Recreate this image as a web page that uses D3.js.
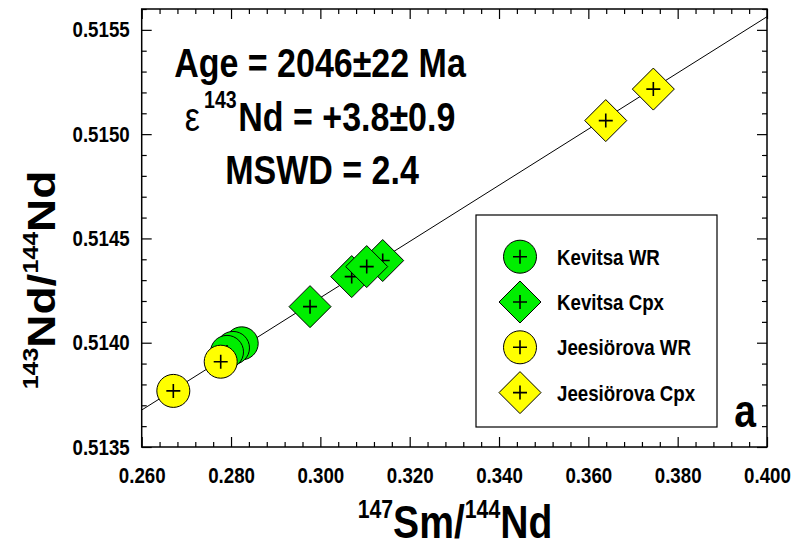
<!DOCTYPE html>
<html>
<head>
<meta charset="utf-8">
<script src="https://cdn.jsdelivr.net/npm/d3@7"></script>
<style>
  html, body { margin: 0; padding: 0; background: #fff; }
  svg { display: block; }
  text { font-family: 'Liberation Sans', Arial, sans-serif; font-weight: bold; fill: #000; }
</style>
</head>
<body>
<svg id="chart" width="793" height="549"></svg>
<script>
// 147Sm/144Nd (x) and 143Nd/144Nd (y) for each sample group
const kevitsaWR_x = [0.28239, 0.28044, 0.27910];
const kevitsaWR_y = [0.513997, 0.513975, 0.513956];
const kevitsaCpx_x = [0.29769, 0.30702, 0.31396, 0.31038];
const kevitsaCpx_y = [0.514173, 0.514317, 0.514394, 0.514365];
const jeesiorovaWR_x = [0.26708, 0.27769];
const jeesiorovaWR_y = [0.513769, 0.513909];
const jeesiorovaCpx_x = [0.36390, 0.37455];
const jeesiorovaCpx_y = [0.515065, 0.515216];

// Isochron regression line
const isochronSlope = 0.01347;
const isochronIntercept = 0.510175;

// Axis ranges and tick labels
const xDomain = [0.26, 0.40];
const yDomain = [0.5135, 0.5156];
const xTicks = [0.26, 0.28, 0.30, 0.32, 0.34, 0.36, 0.38, 0.40];
const yTicks = [0.5135, 0.5140, 0.5145, 0.5150, 0.5155];
const xMinorStep = 0.004;
const yMinorStep = 0.0001;

const legendLabels = ["Kevitsa WR", "Kevitsa Cpx", "Jeesiörova WR", "Jeesiörova Cpx"];
const legendShapes = ["circle", "diamond", "circle", "diamond"];
const legendFills = ["#00ee00", "#00ee00", "#ffff00", "#ffff00"];

const GREEN = "#00ee00", YELLOW = "#ffff00";
const SX = 0.85;            // horizontal squeeze applied to all lettering
const R = 16.5;             // circle marker radius
const D = 21;               // diamond half-diagonal

const svg = d3.select("#chart");
const plotL = 141.7, plotR = 767, plotT = 9, plotB = 447;

const x = d3.scaleLinear().domain(xDomain).range([plotL, plotR]);
const y = d3.scaleLinear().domain(yDomain).range([plotB, plotT]);

// helper: squeezed text at a position
function label(g, px, py, str, size, anchor) {
  return g.append("text")
    .attr("transform", `translate(${px},${py}) scale(${SX},1)`)
    .attr("text-anchor", anchor || "start")
    .style("font-size", size + "px")
    .text(str);
}

// minor tick positions
const xMinor = d3.range(Math.round((xDomain[1] - xDomain[0]) / xMinorStep) + 1)
  .map(i => +(xDomain[0] + i * xMinorStep).toFixed(4))
  .filter(v => !xTicks.some(t => Math.abs(t - v) < 1e-6));
const yMinor = d3.range(Math.round((yDomain[1] - yDomain[0]) / yMinorStep) + 1)
  .map(i => +(yDomain[0] + i * yMinorStep).toFixed(5))
  .filter(v => !yTicks.some(t => Math.abs(t - v) < 1e-7));

function styleAxis(g) {
  g.select(".domain").remove();
  g.selectAll(".tick line").attr("stroke", "#000").attr("stroke-width", 1.2);
}

// bottom axis with labels
const gx = svg.append("g").attr("transform", `translate(0,${plotB})`)
  .call(d3.axisBottom(x).tickValues(xTicks).tickFormat(d3.format(".3f"))
    .tickSizeInner(-10).tickSizeOuter(0).tickPadding(20));
gx.call(styleAxis);
gx.selectAll(".tick text").attr("transform", `scale(${SX},1)`)
  .style("font-size", "22px").attr("font-family", null).attr("fill", "#000");
svg.append("g").attr("transform", `translate(0,${plotB})`)
  .call(d3.axisBottom(x).tickValues(xMinor).tickFormat("").tickSizeInner(-5).tickSizeOuter(0))
  .call(styleAxis);

// top axis (ticks only)
svg.append("g").attr("transform", `translate(0,${plotT})`)
  .call(d3.axisTop(x).tickValues(xTicks).tickFormat("").tickSizeInner(-10).tickSizeOuter(0))
  .call(styleAxis);
svg.append("g").attr("transform", `translate(0,${plotT})`)
  .call(d3.axisTop(x).tickValues(xMinor).tickFormat("").tickSizeInner(-5).tickSizeOuter(0))
  .call(styleAxis);

// left axis with labels
const gy = svg.append("g").attr("transform", `translate(${plotL},0)`)
  .call(d3.axisLeft(y).tickValues(yTicks).tickFormat(d3.format(".4f"))
    .tickSizeInner(-10).tickSizeOuter(0).tickPadding(12));
gy.call(styleAxis);
gy.selectAll(".tick text")
  .attr("x", function () { return (+this.getAttribute("x")) / SX; })
  .attr("transform", `scale(${SX},1)`)
  .style("font-size", "22px").attr("font-family", null).attr("fill", "#000");
svg.append("g").attr("transform", `translate(${plotL},0)`)
  .call(d3.axisLeft(y).tickValues(yMinor).tickFormat("").tickSizeInner(-5).tickSizeOuter(0))
  .call(styleAxis);

// right axis (ticks only)
svg.append("g").attr("transform", `translate(${plotR},0)`)
  .call(d3.axisRight(y).tickValues(yTicks).tickFormat("").tickSizeInner(-10).tickSizeOuter(0))
  .call(styleAxis);
svg.append("g").attr("transform", `translate(${plotR},0)`)
  .call(d3.axisRight(y).tickValues(yMinor).tickFormat("").tickSizeInner(-5).tickSizeOuter(0))
  .call(styleAxis);

// plot frame
svg.append("rect")
  .attr("x", plotL).attr("y", plotT).attr("width", plotR - plotL).attr("height", plotB - plotT)
  .attr("fill", "none").attr("stroke", "#000").attr("stroke-width", 1.5);

// isochron
svg.append("line")
  .attr("x1", x(xDomain[0])).attr("y1", y(isochronIntercept + isochronSlope * xDomain[0]))
  .attr("x2", x(xDomain[1])).attr("y2", y(isochronIntercept + isochronSlope * xDomain[1]))
  .attr("stroke", "#000").attr("stroke-width", 1);

// markers
const plus = "M-7,0H7M0,-7V7";
function marker(g, shape, fill) {
  if (shape === "circle") {
    g.append("circle").attr("r", R).attr("fill", fill).attr("stroke", "#000").attr("stroke-width", 1);
  } else {
    g.append("path").attr("d", `M0,${-D}L${D},0L0,${D}L${-D},0Z`)
      .attr("fill", fill).attr("stroke", "#000").attr("stroke-width", 1);
  }
  g.append("path").attr("d", plus).attr("stroke", "#000").attr("stroke-width", 1.6);
}
function drawSeries(xs, ys, shape, fill) {
  xs.forEach((v, i) => {
    const g = svg.append("g").attr("transform", `translate(${x(v)},${y(ys[i])})`);
    marker(g, shape, fill);
  });
}
drawSeries(kevitsaCpx_x, kevitsaCpx_y, "diamond", GREEN);
drawSeries(kevitsaWR_x, kevitsaWR_y, "circle", GREEN);
drawSeries(jeesiorovaWR_x, jeesiorovaWR_y, "circle", YELLOW);
drawSeries(jeesiorovaCpx_x, jeesiorovaCpx_y, "diamond", YELLOW);

// annotation block
const ann = svg.append("g");
label(ann, 320, 77, "Age = 2046±22 Ma", 40, "middle");
const eps = ann.append("text")
  .attr("transform", `translate(320,131) scale(${SX},1)`)
  .attr("text-anchor", "middle")
  .style("font-size", "40px");
eps.append("tspan").style("font-weight", "normal").text("ε");
eps.append("tspan").attr("dx", 5).attr("dy", -23).style("font-size", "23px").text("143");
eps.append("tspan").attr("dx", 2).attr("dy", 23).text("Nd = +3.8±0.9");
label(ann, 322, 184, "MSWD = 2.4", 40, "middle");

// axis titles
const xt = svg.append("text")
  .attr("transform", `translate(455,538) scale(${SX},1)`)
  .attr("text-anchor", "middle").style("font-size", "46px");
xt.append("tspan").attr("dy", -20).style("font-size", "25px").text("147");
xt.append("tspan").attr("dy", 20).text("Sm/");
xt.append("tspan").attr("dy", -20).style("font-size", "25px").text("144");
xt.append("tspan").attr("dy", 20).text("Nd");

const yt = svg.append("text")
  .attr("transform", `translate(55,280) scale(${SX},1) rotate(-90)`)
  .attr("text-anchor", "middle").style("font-size", "46px");
yt.append("tspan").attr("dy", -20).style("font-size", "25px").text("143");
yt.append("tspan").attr("dy", 20).text("Nd/");
yt.append("tspan").attr("dy", -20).style("font-size", "25px").text("144");
yt.append("tspan").attr("dy", 20).text("Nd");

// panel letter
label(svg, 745, 427, "a", 46, "middle");

// legend
const lg = svg.append("g");
lg.append("rect").attr("x", 476).attr("y", 215).attr("width", 241).attr("height", 212)
  .attr("fill", "#fff").attr("stroke", "#000").attr("stroke-width", 1.2);
legendLabels.forEach((name, i) => {
  const cy = 256.7 + i * 45.3;
  const g = lg.append("g").attr("transform", `translate(520,${cy})`);
  marker(g, legendShapes[i], legendFills[i]);
  label(lg, 557, cy + 8, name, 22, "start");
});
</script>
</body>
</html>
